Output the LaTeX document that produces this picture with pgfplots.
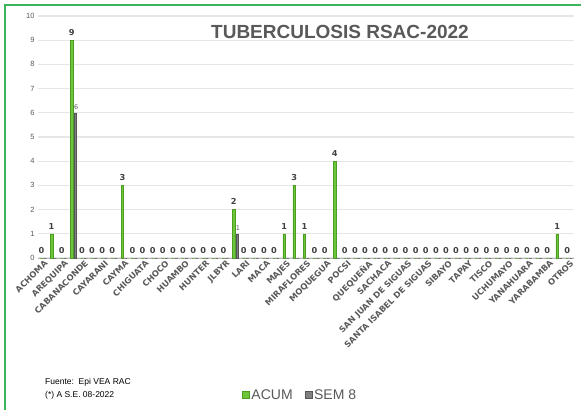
\documentclass[border=0pt]{standalone}
\usepackage{fontspec}
\setmainfont{Liberation Sans}
\newfontfamily\dejavu{DejaVu Sans}
\usepackage{pgfplots}
\usepackage{pgfplotstable}
\pgfplotsset{compat=1.18}

\definecolor{acum}{RGB}{108,198,56}
\definecolor{acumdk}{RGB}{76,158,34}
\definecolor{sem}{RGB}{128,128,128}
\definecolor{semdk}{RGB}{85,85,85}
\definecolor{txt}{RGB}{89,89,89}
\definecolor{lbl}{RGB}{64,64,64}
\definecolor{gridc}{RGB}{230,230,230}
\definecolor{marco}{RGB}{60,180,90}

% x = posicion de la categoria (solo las pares llevan nombre)
\pgfplotstableread{
x acum sem
0 0 0
1 1 0
2 0 0
3 9 6
4 0 0
5 0 0
6 0 0
7 0 0
8 3 0
9 0 0
10 0 0
11 0 0
12 0 0
13 0 0
14 0 0
15 0 0
16 0 0
17 0 0
18 0 0
19 2 1
20 0 0
21 0 0
22 0 0
23 0 0
24 1 0
25 3 0
26 1 0
27 0 0
28 0 0
29 4 0
30 0 0
31 0 0
32 0 0
33 0 0
34 0 0
35 0 0
36 0 0
37 0 0
38 0 0
39 0 0
40 0 0
41 0 0
42 0 0
43 0 0
44 0 0
45 0 0
46 0 0
47 0 0
48 0 0
49 0 0
50 0 0
51 1 0
52 0 0
}\datos

\begin{document}
\begin{tikzpicture}
\useasboundingbox (0,0) rectangle (581pt,410pt);
\draw[marco, line width=1.5pt] (5pt,0pt) -- (5pt,405pt) -- (581pt,405pt);

\begin{axis}[
    at={(38pt,152pt)}, anchor=south west,
    scale only axis,
    width=536pt, height=242pt,
    xmin=-0.5, xmax=52.5,
    ymin=0, ymax=10,
    ytick={0,1,...,10},
    xtick={0,2,...,52},
    xticklabels={ACHOMA, AREQUIPA, CABANACONDE, CAYARANI, CAYMA, CHIGUATA,
        CHOCO, HUAMBO, HUNTER, JLBYR, LARI, MACA, MAJES, MIRAFLORES, MOQUEGUA,
        POCSI, QUEQUEÑA, SACHACA, SAN JUAN DE SIGUAS, SANTA ISABEL DE SIGUAS,
        SIBAYO, TAPAY, TISCO, UCHUMAYO, YANAHUARA, YARABAMBA, OTROS},
    x tick label style={font=\dejavu\bfseries\fontsize{8.3}{9}\selectfont,
        text=txt, rotate=45, anchor=north east, inner sep=0.5pt, yshift=-1pt},
    y tick label style={font=\fontsize{7.5}{8}\selectfont, text=txt},
    /pgf/number format/assume math mode=true,
    major tick length=0pt,
    ymajorgrids,
    grid style={gridc, line width=1.2pt},
    axis x line*=bottom,
    axis y line*=left,
    x axis line style={draw=gridc!80!black, line width=1pt},
    y axis line style={draw=none},
    ybar,
    bar width=2.6pt,
    legend style={at={(0.489,-0.566)}, anchor=center, draw=none,
        legend columns=2, font=\fontsize{14}{15}\selectfont, text=txt,
        /tikz/every even column/.append style={column sep=10pt}},
    legend image code/.code={\fill[#1] (0pt,-3.5pt) rectangle (7pt,3.5pt);},
]
\addplot[fill=acum, draw=acumdk, bar shift=-1.6pt,
    nodes near coords,
    every node near coord/.append style={font=\dejavu\bfseries\fontsize{8.2}{9}\selectfont,
        text=lbl, inner sep=0.5pt, yshift=4pt}]
    table[x=x, y=acum] {\datos};
\addplot[fill=sem, draw=semdk, bar shift=1.9pt,
    nodes near coords={\pgfmathfloatifflags{\pgfplotspointmeta}{0}{}{\pgfmathprintnumber{\pgfplotspointmeta}}},
    every node near coord/.append style={font=\dejavu\fontsize{6.5}{7}\selectfont,
        text=txt, inner sep=0.5pt, yshift=2.5pt, xshift=0.8pt}]
    table[x=x, y=sem] {\datos};
\legend{ACUM, SEM 8}
\end{axis}

\node[font=\bfseries\fontsize{19}{22}\selectfont, text=txt] at (340pt,378pt)
    {TUBERCULOSIS RSAC-2022};
\node[anchor=north west, align=left, font=\fontsize{8.5}{13}\selectfont,
    inner sep=0pt] at (45pt,32pt)
    {Fuente:\ \ Epi VEA RAC\\(*) A S.E. 08-2022};
\end{tikzpicture}
\end{document}
